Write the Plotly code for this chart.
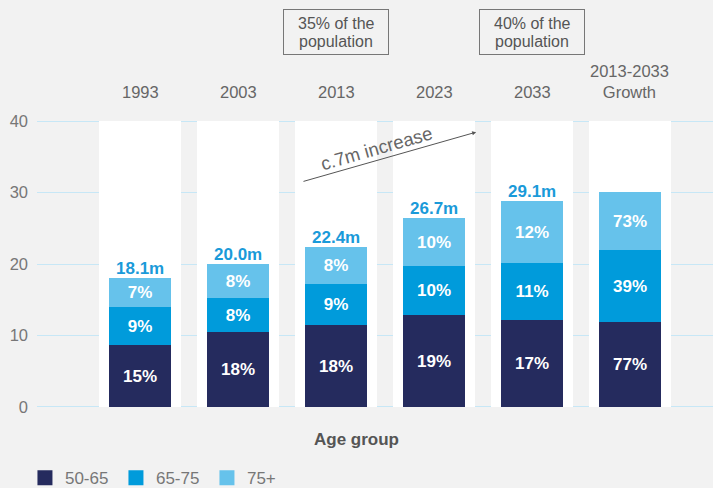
import plotly.graph_objects as go

categories = ["1993", "2003", "2013", "2023", "2033", "2013-2033<br>Growth"]
age_50_65 = [8.7, 10.5, 11.5, 12.9, 12.2, 11.9]
age_65_75 = [5.3, 4.7, 5.7, 6.8, 7.9, 10.1]
age_75_plus = [4.1, 4.8, 5.2, 6.7, 8.7, 8.1]
lbl_50_65 = ["15%", "18%", "18%", "19%", "17%", "77%"]
lbl_65_75 = ["9%", "8%", "9%", "10%", "11%", "39%"]
lbl_75_plus = ["7%", "8%", "8%", "10%", "12%", "73%"]
totals = ["18.1m", "20.0m", "22.4m", "26.7m", "29.1m", ""]
y_ticks = [0, 10, 20, 30, 40]
callouts = [(2, "35% of the", "population"), (4, "40% of the", "population")]

C1, C2, C3 = "#252B5E", "#009BDB", "#66C2EB"
BG = "#F2F2F2"
FONT = "Liberation Sans"

xs = list(range(len(categories)))
base2 = age_50_65
base3 = [a + b for a, b in zip(age_50_65, age_65_75)]
tops = [a + b for a, b in zip(base3, age_75_plus)]

fig = go.Figure()
# white column backgrounds
fig.add_trace(go.Bar(x=xs, y=[y_ticks[-1]] * len(xs), width=0.827, marker=dict(color="white", line=dict(width=0)),
                     showlegend=False, hoverinfo="skip"))
for vals, base, lbls, col, name in [
    (age_50_65, [0] * len(xs), lbl_50_65, C1, "50-65"),
    (age_65_75, base2, lbl_65_75, C2, "65-75"),
    (age_75_plus, base3, lbl_75_plus, C3, "75+"),
]:
    fig.add_trace(go.Bar(x=xs, y=vals, base=base, width=0.633, name=name,
                         marker=dict(color=col, line=dict(width=0)),
                         text=lbls, textposition="inside", insidetextanchor="middle",
                         textfont=dict(color="white", size=17, family=FONT, weight="bold"),
                         textangle=0, showlegend=False, hoverinfo="skip"))
    fig.add_trace(go.Scatter(x=[None], y=[None], mode="markers", name=name,
                             marker=dict(symbol="square", size=15, color=col)))

ann = []
for i, c in enumerate(categories):
    ann.append(dict(x=i, y=y_ticks[-1], xref="x", yref="y", text=c, showarrow=False,
                    yanchor="bottom", yshift=18, font=dict(size=16.5, color="#666666", family=FONT)))
for i, t in enumerate(totals):
    if t:
        ann.append(dict(x=i, y=tops[i], xref="x", yref="y", text=t, showarrow=False,
                        yanchor="bottom", yshift=-2,
                        font=dict(size=17, color="#1A9AD9", family=FONT, weight="bold")))
for i, l1, l2 in callouts:
    ann.append(dict(x=i, y=1.304, xref="x", yref="paper", text=" ", showarrow=False,
                    yanchor="middle", bordercolor="#777777", borderwidth=1, borderpad=0,
                    width=104, height=44, bgcolor=BG, font=dict(size=10)))
    ann.append(dict(x=i, y=1.304, xref="x", yref="paper", text=l1, showarrow=False,
                    yanchor="middle", yshift=9, font=dict(size=16, color="#555555", family=FONT)))
    ann.append(dict(x=i, y=1.304, xref="x", yref="paper", text=l2, showarrow=False,
                    yanchor="middle", yshift=-9, font=dict(size=16, color="#555555", family=FONT)))
# arrow
ann.append(dict(x=3.43, y=38.45, ax=1.653, ay=31.5, xref="x", yref="y", axref="x", ayref="y",
                text="", showarrow=True, arrowhead=2, arrowsize=0.8, arrowwidth=1, arrowcolor="#555555"))
ann.append(dict(x=2.41, y=36.1, xref="x", yref="y", text="c.7m increase", showarrow=False,
                textangle=-16, font=dict(size=18.5, color="#666666", family=FONT)))
ann.append(dict(x=0.473, y=-0.07, xref="paper", yref="paper", text="<b>Age group</b>", showarrow=False,
                yanchor="top", font=dict(size=17, color="#555555", family=FONT)))

fig.update_layout(
    width=713, height=488,
    margin=dict(l=37, r=0, t=120, b=80),
    paper_bgcolor=BG, plot_bgcolor=BG,
    barmode="overlay", bargap=0,
    font=dict(family=FONT, color="#777777", size=16),
    xaxis=dict(range=[-1.051, 5.847], showticklabels=False, showgrid=False, zeroline=False,
               showline=False, ticks=""),
    yaxis=dict(range=[-0.15, 40.15], tickvals=y_ticks, showgrid=True, gridcolor="#C7E7F6", gridwidth=1,
               zeroline=False, showline=False, ticks="", ticklabelstandoff=8,
               tickfont=dict(size=16.5, color="#777777", family=FONT)),
    legend=dict(orientation="h", xref="container", yref="container", x=0.035, y=0.02,
                xanchor="left", yanchor="middle", entrywidth=46,
                font=dict(size=17, color="#777777", family=FONT), bgcolor="rgba(0,0,0,0)"),
    annotations=ann,
    showlegend=True,
)
fig.write_html("out.html")
